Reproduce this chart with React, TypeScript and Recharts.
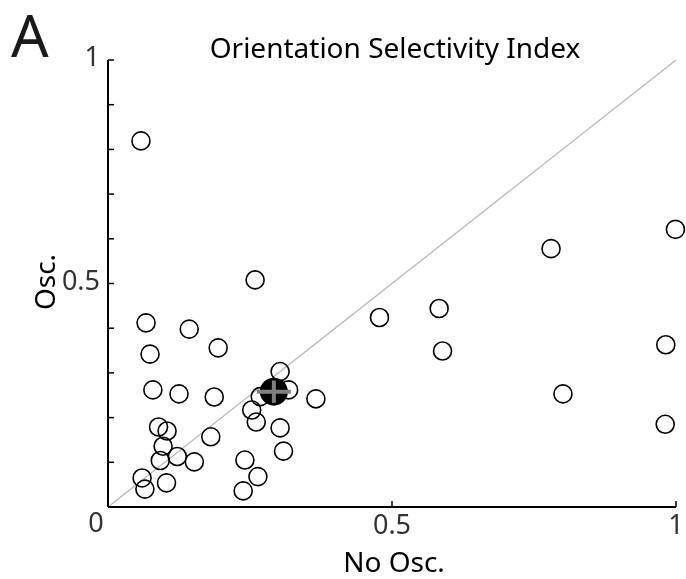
import {
  ReferenceLine,
  Scatter,
  ScatterChart,
  XAxis,
  YAxis,
} from "recharts";

// OSI per cell: without oscillation (x) vs with oscillation (y)
const noOsc = [
  0.058, 0.259, 0.067, 0.143, 0.074, 0.194, 0.079, 0.125, 0.187, 0.089,
  0.104, 0.097, 0.092, 0.122, 0.152, 0.06, 0.065, 0.103, 0.181, 0.241,
  0.264, 0.238, 0.309, 0.303, 0.261, 0.253, 0.268, 0.303, 0.318, 0.366,
  0.478, 0.583, 0.589, 0.78, 0.999, 0.801, 0.982, 0.981,
];
const osc = [
  0.819, 0.508, 0.412, 0.398, 0.342, 0.356, 0.262, 0.253, 0.246, 0.179,
  0.17, 0.136, 0.104, 0.113, 0.101, 0.065, 0.04, 0.054, 0.157, 0.105,
  0.068, 0.036, 0.125, 0.177, 0.19, 0.217, 0.247, 0.303, 0.262, 0.242,
  0.424, 0.444, 0.349, 0.578, 0.621, 0.253, 0.363, 0.185,
];

// population mean with its spread
const meanX = 0.292;
const meanY = 0.258;
const errX = 0.03;
const errY = 0.025;

const xTicks = [0, 0.5, 1];
const yTicks = [0, 0.1, 0.2, 0.3, 0.4, 0.5, 0.6, 0.7, 0.8, 0.9, 1];
const yLabelled = [0.5, 1];

const cells = noOsc.map((x, i) => ({ x, y: osc[i] }));
const mean = [{ x: meanX, y: meanY }];
const hBar = [
  { x: meanX - errX, y: meanY },
  { x: meanX + errX, y: meanY },
];
const vBar = [
  { x: meanX, y: meanY - errY },
  { x: meanX, y: meanY + errY },
];

const FONT = "'Noto Sans', sans-serif";
const BAR = "#808080";

function YTick(props: any) {
  const { x, y, payload } = props;
  const v = payload.value;
  return (
    <g>
      <line x1={x + 8} x2={x + 14} y1={y} y2={y} stroke="#000" strokeWidth={1.5} />
      {yLabelled.includes(v) && (
        <text x={x} y={y + 6} textAnchor="end" fontSize={27} fontFamily={FONT} fill="#333">
          {v}
        </text>
      )}
    </g>
  );
}

function XTick(props: any) {
  const { x, y, payload } = props;
  const v = payload.value;
  return (
    <g>
      {v > 0 && <line x1={x} x2={x} y1={y - 6} y2={y} stroke="#000" strokeWidth={1.5} />}
      <text
        x={v === 0 ? x - 12 : x}
        y={v === 0 ? y + 25 : y + 27}
        textAnchor="middle"
        fontSize={27}
        fontFamily={FONT}
        fill="#333"
      >
        {v}
      </text>
    </g>
  );
}

function Ring(props: any) {
  return <circle cx={props.cx} cy={props.cy} r={9} fill="none" stroke="#000" strokeWidth={1.6} />;
}

function Dot(props: any) {
  return <circle cx={props.cx} cy={props.cy} r={14} fill="#000" />;
}

const Nothing = () => <g />;

export default function App() {
  return (
    <div style={{ position: "fixed", left: 0, top: 0, width: 686, height: 579, fontFamily: FONT }}>
      <ScatterChart width={686} height={579} margin={{ top: 60, right: 10, bottom: 0, left: 0 }}>
        <XAxis
          type="number"
          dataKey="x"
          domain={[0, 1]}
          ticks={xTicks}
          interval={0}
          height={72}
          tickSize={0}
          tickMargin={0}
          tickLine={false}
          axisLine={{ stroke: "#000", strokeWidth: 2 }}
          tick={<XTick />}
        />
        <YAxis
          type="number"
          dataKey="y"
          domain={[0, 1]}
          ticks={yTicks}
          interval={0}
          width={108}
          tickSize={0}
          tickMargin={8}
          tickLine={false}
          axisLine={{ stroke: "#000", strokeWidth: 2 }}
          tick={<YTick />}
        />
        <ReferenceLine
          segment={[
            { x: 0, y: 0 },
            { x: 1, y: 1 },
          ]}
          stroke="#b8b8b8"
          strokeWidth={1.3}
        />
        <Scatter data={cells} shape={<Ring />} isAnimationActive={false} />
        <Scatter data={mean} shape={<Dot />} isAnimationActive={false} />
        <Scatter
          data={hBar}
          shape={Nothing}
          stroke={BAR}
          line={{ stroke: BAR, strokeWidth: 4 }}
          isAnimationActive={false}
        />
        <Scatter
          data={vBar}
          shape={Nothing}
          stroke={BAR}
          line={{ stroke: BAR, strokeWidth: 4 }}
          isAnimationActive={false}
        />
      </ScatterChart>
      <svg
        width={686}
        height={579}
        style={{ position: "absolute", left: 0, top: 0, pointerEvents: "none" }}
        fontFamily={FONT}
      >
        <text x={11} y={57} fontSize={59} fill="#1a1a1a">
          A
        </text>
        <text x={395} y={58} fontSize={28} textAnchor="middle" fill="#000">
          Orientation Selectivity Index
        </text>
        <text x={394} y={572} fontSize={28} textAnchor="middle" fill="#000">
          No Osc.
        </text>
        <text transform="translate(55,282) rotate(-90)" fontSize={28} textAnchor="middle" fill="#000">
          Osc.
        </text>
      </svg>
    </div>
  );
}
